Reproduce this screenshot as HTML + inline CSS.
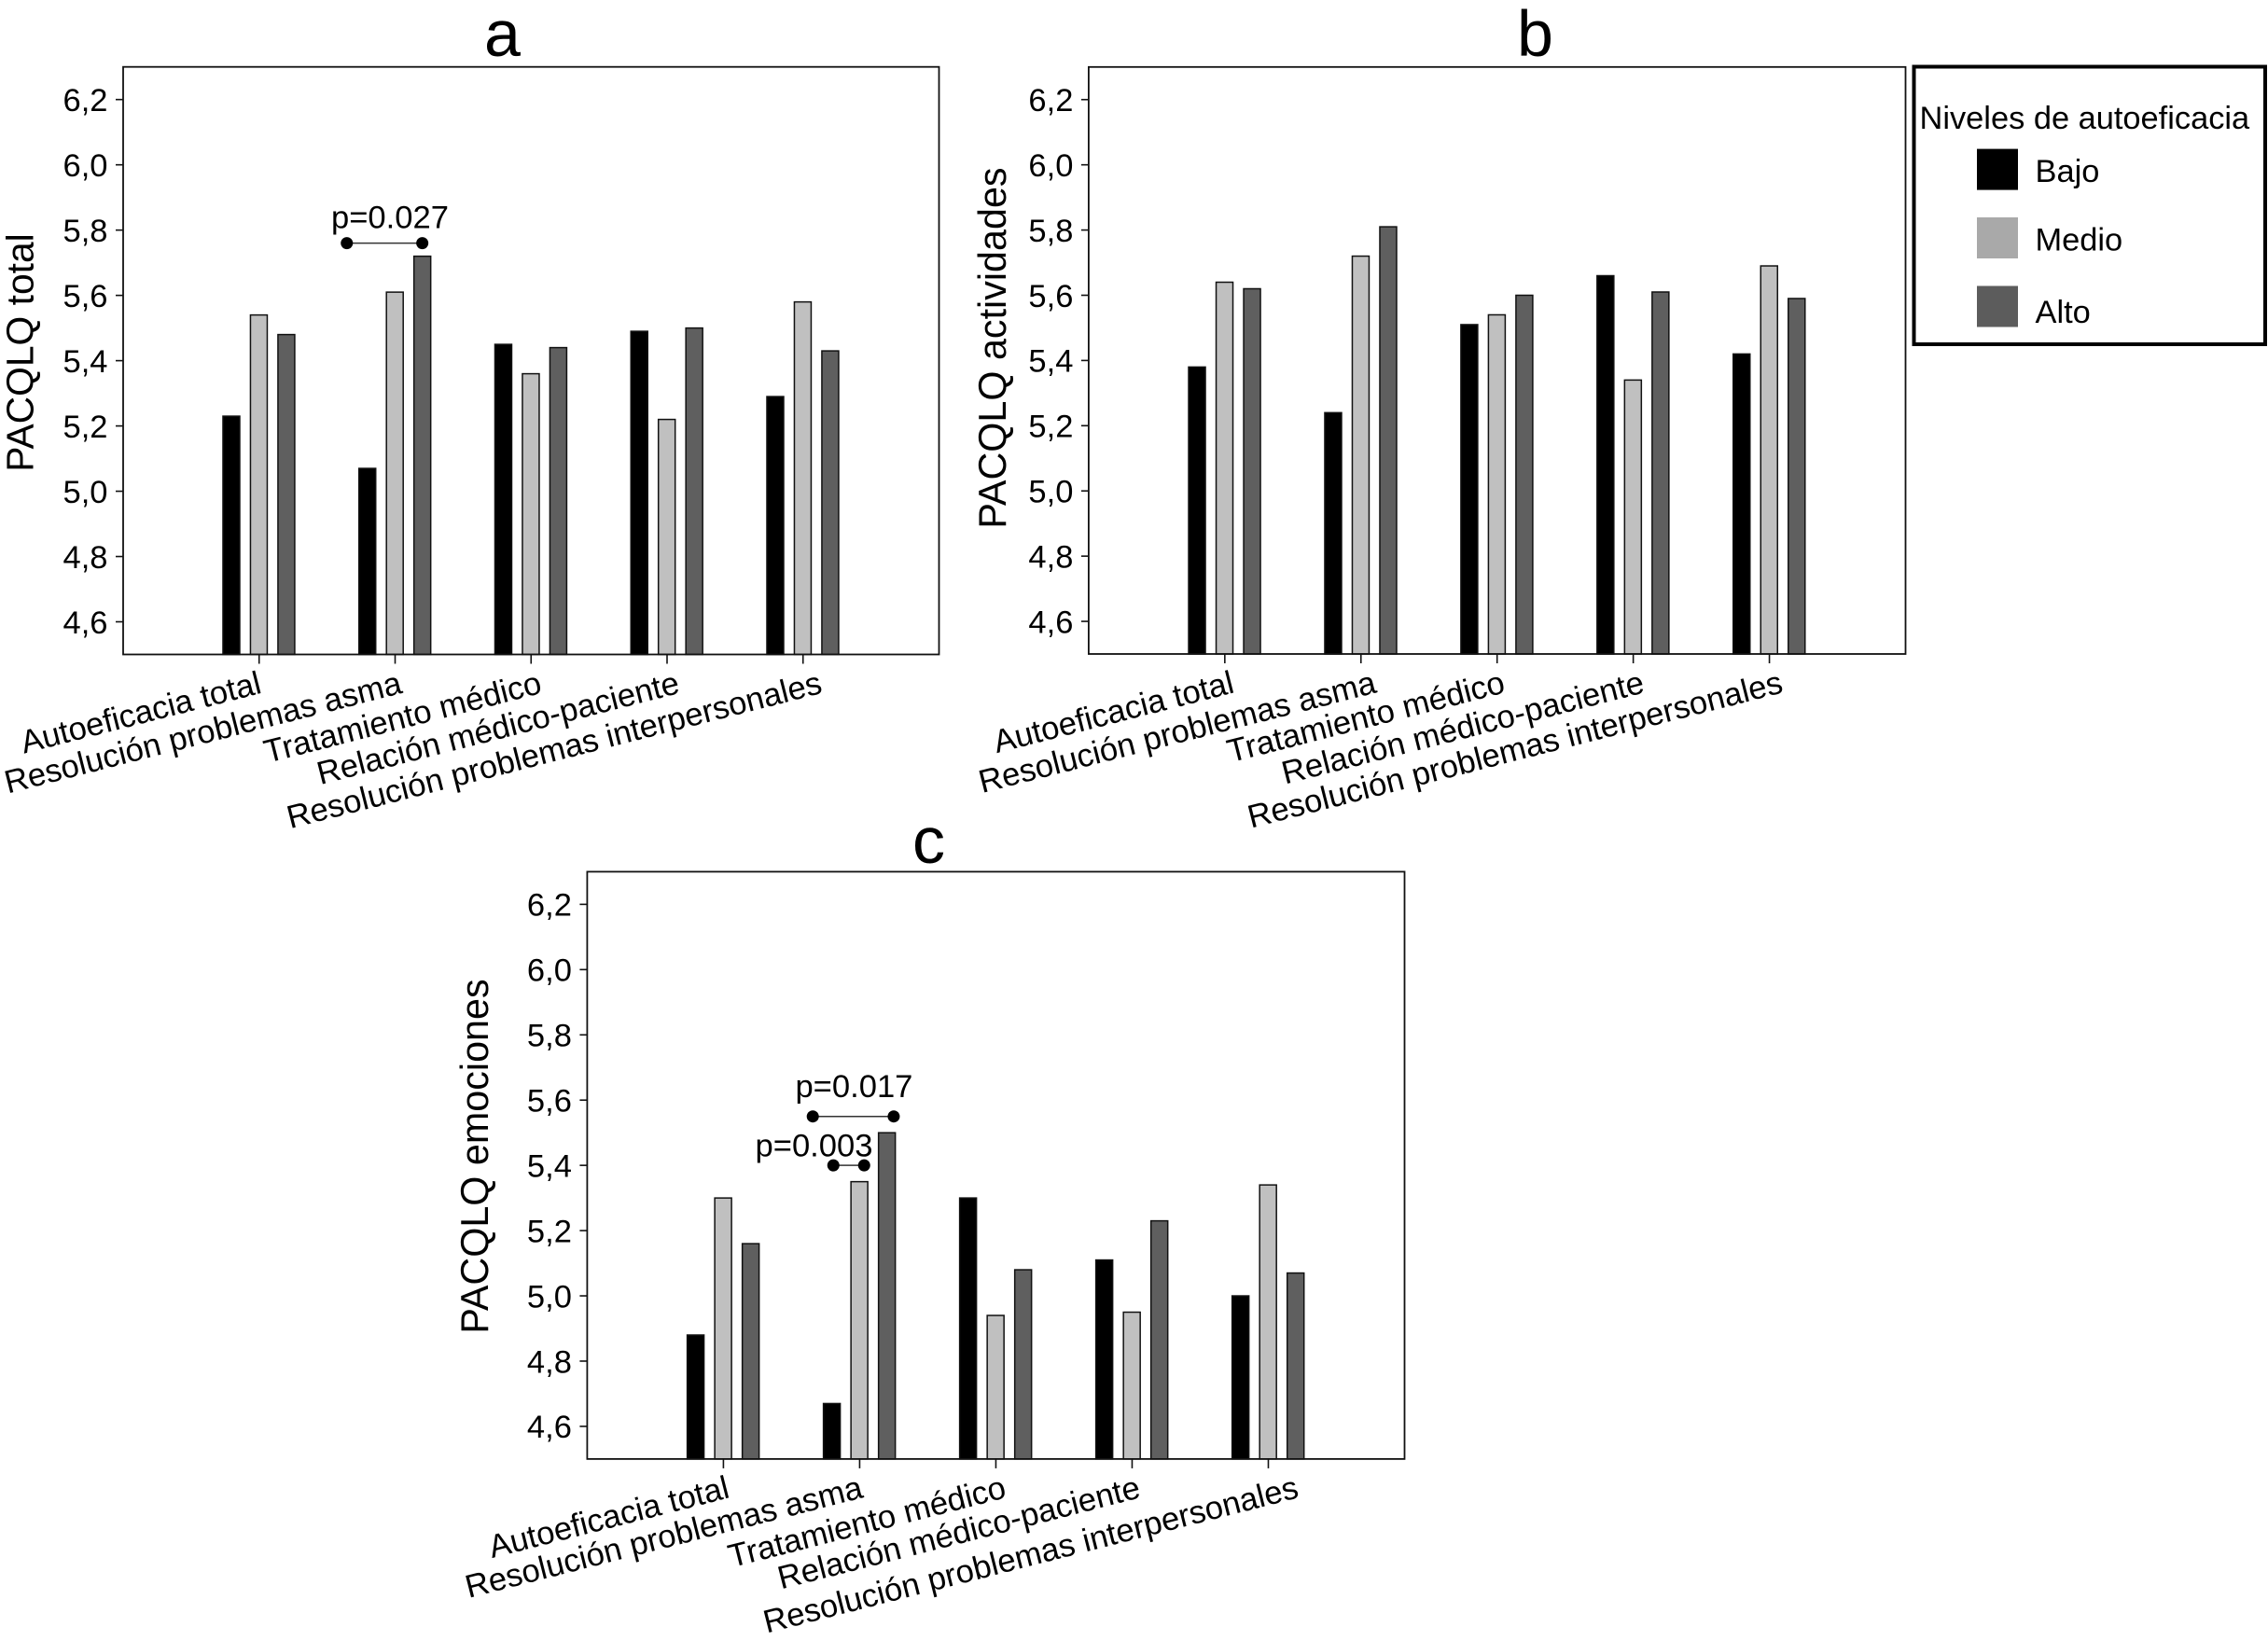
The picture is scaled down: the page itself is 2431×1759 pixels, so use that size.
<!DOCTYPE html>
<html lang="es">
<head>
<meta charset="utf-8">
<title>PACQLQ por niveles de autoeficacia</title>
<style>
html,body{margin:0;padding:0;background:#fff;width:2431px;height:1759px;overflow:hidden}
svg{display:block}
text{font-family:"Liberation Sans",Arial,sans-serif;fill:#000}
</style>
</head>
<body>
<svg id="figure" xmlns="http://www.w3.org/2000/svg" width="2431" height="1759" viewBox="0 0 2431 1759">
<rect width="2431" height="1759" fill="#fff"></rect>
<g id="panel-a"></g>
<g id="panel-b"></g>
<g id="panel-c"></g>
<g id="legend"></g>
</svg>
<script>
// ---- Chart data ----
const categories = ["Autoeficacia total", "Resolución problemas asma", "Tratamiento médico", "Relación médico-paciente", "Resolución problemas interpersonales"];
const seriesNames = ["Bajo", "Medio", "Alto"];
const yTickValues = [4.6, 4.8, 5.0, 5.2, 5.4, 5.6, 5.8, 6.0, 6.2];
const yTickLabels = ["4,6", "4,8", "5,0", "5,2", "5,4", "5,6", "5,8", "6,0", "6,2"];

const totalBajo = [5.23, 5.07, 5.45, 5.49, 5.29];
const totalMedio = [5.54, 5.61, 5.36, 5.22, 5.58];
const totalAlto = [5.48, 5.72, 5.44, 5.50, 5.43];

const actividadesBajo = [5.38, 5.24, 5.51, 5.66, 5.42];
const actividadesMedio = [5.64, 5.72, 5.54, 5.34, 5.69];
const actividadesAlto = [5.62, 5.81, 5.60, 5.61, 5.59];

const emocionesBajo = [4.88, 4.67, 5.30, 5.11, 5.00];
const emocionesMedio = [5.30, 5.35, 4.94, 4.95, 5.34];
const emocionesAlto = [5.16, 5.50, 5.08, 5.23, 5.07];

const totalSigLabels = ["p=0.027"];
const totalSigValues = [5.76];
const totalSigFrom = [0.645];
const totalSigTo = [1.2];

const emocionesSigLabels = ["p=0.017", "p=0.003"];
const emocionesSigValues = [5.55, 5.40];
const emocionesSigFrom = [0.656, 0.807];
const emocionesSigTo = [1.25, 1.033];

// ---- Layout (not data) ----
const yDomainMin = 4.5, yDomainMax = 6.3;
const seriesFills = ["#000000", "#c0c0c0", "#5f5f5f"];
const legendFills = ["#000000", "#a9a9a9", "#5c5c5c"];
const NS = "http://www.w3.org/2000/svg";

const panels = [
  { id: "panel-a", key: "a", title: "a", titleX: 538.5, titleY: 60, left: 132, right: 1006.5, top: 71.7, bottom: 701.5,
    yTitle: "PACQLQ total", yTitleSize: 40.8, yTitleX: 35.5, yTitleY: 378, series: [totalBajo, totalMedio, totalAlto],
    labelNudge: [4, 9, 13, 15, 22], sigLabels: totalSigLabels, sigValues: totalSigValues, sigFrom: totalSigFrom, sigTo: totalSigTo,
    sigTextCenter: [0.962], sigTextLift: [16] },
  { id: "panel-b", key: "b", title: "b", titleX: 1645.5, titleY: 60, left: 1166.9, right: 2042.5, top: 71.8, bottom: 701,
    yTitle: "PACQLQ actividades", yTitleSize: 41.3, yTitleX: 1078, yTitleY: 373, series: [actividadesBajo, actividadesMedio, actividadesAlto],
    labelNudge: [11.5, 18, 10, 13.5, 16], sigLabels: [], sigValues: [], sigFrom: [], sigTo: [], sigTextCenter: [], sigTextLift: [] },
  { id: "panel-c", key: "c", title: "c", titleX: 995.5, titleY: 925, left: 629.4, right: 1505.5, top: 934.4, bottom: 1563.9,
    yTitle: "PACQLQ emociones", yTitleSize: 41.3, yTitleX: 523, yTitleY: 1239.5, series: [emocionesBajo, emocionesMedio, emocionesAlto],
    labelNudge: [8, 5, 12.5, 10.5, 34], sigLabels: emocionesSigLabels, sigValues: emocionesSigValues, sigFrom: emocionesSigFrom, sigTo: emocionesSigTo,
    sigTextCenter: [0.959, 0.665], sigTextLift: [20.6, 9.6] }
];

function svgEl(parent, tag, attrs, content) {
  const el = document.createElementNS(NS, tag);
  for (const k in attrs) el.setAttribute(k, attrs[k]);
  if (content !== undefined) el.textContent = content;
  parent.appendChild(el);
  return el;
}

function makeYScale(p) {
  return function (v) {
    return p.top + (yDomainMax - v) / (yDomainMax - yDomainMin) * (p.bottom - p.top);
  };
}
function makeXScale(p) {
  const step = (p.right - p.left) / 6;
  return function (i) { return p.left + (i + 1) * step; };
}

function drawPanel(p) {
  const g = document.getElementById(p.id);
  const y = makeYScale(p);
  const x = makeXScale(p);
  const step = (p.right - p.left) / 6;
  const barWidth = 18, seriesStep = 0.2022 * step;

  let el = svgEl(g, "text", { x: p.titleX, y: p.titleY, "text-anchor": "middle", "font-size": 70 }, p.title);
  
  

  el = svgEl(g, "text", { x: p.yTitleX, y: p.yTitleY, "text-anchor": "middle", "font-size": p.yTitleSize, transform: "rotate(-90 " + p.yTitleX + " " + p.yTitleY + ")" }, p.yTitle);
  
  

  p.series.forEach(function (values, s) {
    values.forEach(function (v, i) {
      const cx = x(i) + (s - 1) * seriesStep - 0.3;
      const bar = svgEl(g, "rect", { x: cx - barWidth / 2, y: y(v), width: barWidth, height: p.bottom - y(v), fill: seriesFills[s], stroke: "#111", "stroke-width": 1.5 });
      
      
    });
  });

  el = svgEl(g, "rect", { x: p.left, y: p.top, width: p.right - p.left, height: p.bottom - p.top, fill: "none", stroke: "#111", "stroke-width": 1.8 });
  
  

  yTickValues.forEach(function (v, i) {
    const t = svgEl(g, "line", { x1: p.left - 8, x2: p.left, y1: y(v), y2: y(v), stroke: "#111", "stroke-width": 1.6 });
    
    
    const l = svgEl(g, "text", { x: p.left - 16.5, y: y(v) + 12.3, "text-anchor": "end", "font-size": 34.5 }, yTickLabels[i]);
    
    
  });

  categories.forEach(function (c, i) {
    const t = svgEl(g, "line", { x1: x(i), x2: x(i), y1: p.bottom, y2: p.bottom + 10, stroke: "#111", "stroke-width": 1.6 });
    
    
    const lx = x(i) + p.labelNudge[i], ly = p.bottom + 41;
    const l = svgEl(g, "text", { x: lx, y: ly, "text-anchor": "end", "font-size": 34.7, transform: "rotate(-14.3 " + lx + " " + ly + ")" }, c);
    
    
  });

  p.sigLabels.forEach(function (label, k) {
    const yy = y(p.sigValues[k]);
    const x1 = p.left + (p.sigFrom[k] + 1) * step, x2 = p.left + (p.sigTo[k] + 1) * step;
    const ln = svgEl(g, "line", { x1: x1, x2: x2, y1: yy, y2: yy, stroke: "#333", "stroke-width": 1.5 });
    
    
    [x1, x2].forEach(function (dx) {
      const d = svgEl(g, "circle", { cx: dx, cy: yy, r: 6.5, fill: "#000" });
      
      
    });
    const tx = svgEl(g, "text", { x: p.left + (p.sigTextCenter[k] + 1) * step, y: yy - p.sigTextLift[k], "text-anchor": "middle", "font-size": 34.6 }, label);
    
    
  });
}

panels.forEach(drawPanel);

(function drawLegend() {
  const g = document.getElementById("legend");
  let el = svgEl(g, "rect", { x: 2051.5, y: 71.5, width: 376.5, height: 297.5, fill: "#fff", stroke: "#000", "stroke-width": 4 });
  
  
  el = svgEl(g, "text", { x: 2057.5, y: 138, "font-size": 34.4 }, "Niveles de autoeficacia");
  
  
  const swatchTops = [159.6, 233, 306.5];
  const labelBaselines = [195, 268.6, 346];
  seriesNames.forEach(function (name, s) {
    const sw = svgEl(g, "rect", { x: 2119, y: swatchTops[s], width: 44, height: 44, fill: legendFills[s] });
    
    
    const lb = svgEl(g, "text", { x: 2181.5, y: labelBaselines[s], "font-size": 34.4 }, name);
    
    
  });
})();
</script>
</body>
</html>
